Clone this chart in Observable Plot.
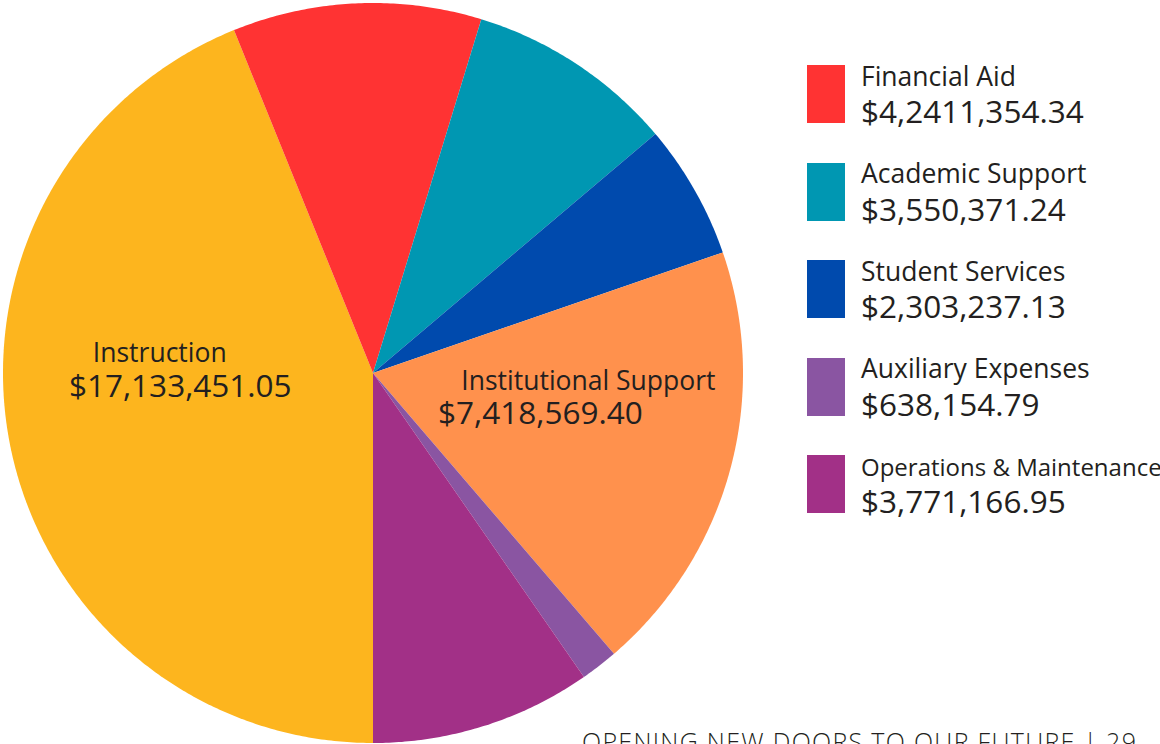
<!DOCTYPE html>
<html>
<head>
<meta charset="utf-8">
<script src="https://cdn.jsdelivr.net/npm/d3@7"></script>
<script src="https://cdn.jsdelivr.net/npm/@observablehq/plot@0.6"></script>
<style>
html, body { margin: 0; padding: 0; background: #fff; overflow: hidden; width: 1160px; height: 744px; }
#wrap { position: relative; width: 1160px; height: 744px; font-family: "Open Sans", sans-serif; color: #231f20; }
#chart { position: absolute; left: 0; top: 0; }
#legend { position: absolute; left: 807px; top: 65px; }
.item { position: relative; height: 97.5px; width: 353px; }
.sw { position: absolute; left: 0; top: 0; width: 38px; height: 58px; }
.nm { position: absolute; left: 54px; top: -2.5px; font-size: 26.5px; line-height: 26.5px; white-space: nowrap; }
.nm.small { top: -0.3px; font-size: 24px; line-height: 24px; }
.vl { position: absolute; left: 54px; top: 30px; font-size: 31.5px; line-height: 31.5px; white-space: nowrap; }
#footer { position: absolute; left: 582px; top: 728.6px; font-size: 25px; line-height: 25px; font-weight: 300; letter-spacing: 1.3px; white-space: nowrap; color: #231f20; }
</style>
</head>
<body>
<div id="wrap">
  <div id="chart"></div>
  <div id="legend"></div>
  <div id="footer">OPENING NEW DOORS TO OUR FUTURE | 29</div>
</div>
<script>
const categories = ["Instruction", "Financial Aid", "Academic Support", "Student Services", "Institutional Support", "Auxiliary Expenses", "Operations & Maintenance"];
const amounts = [17133451.05, 4241354.34, 3550371.24, 2303237.13, 7418569.40, 638154.79, 3771166.95];
const amountLabels = ["$17,133,451.05", "$4,2411,354.34", "$3,550,371.24", "$2,303,237.13", "$7,418,569.40", "$638,154.79", "$3,771,166.95"];
const colors = ["#FDB51E", "#FF3333", "#0097B2", "#004AAD", "#FF914D", "#8A55A2", "#A23087"];
const legendCategories = ["Financial Aid", "Academic Support", "Student Services", "Auxiliary Expenses", "Operations & Maintenance"];
const pieLabelCategories = ["Instruction", "Institutional Support"];

// pie geometry (angles from 12 o'clock, clockwise, starting at 6 o'clock)
const arcs = d3.pie().sort(null).startAngle(Math.PI).endAngle(3 * Math.PI)(amounts);
const pts = [];
arcs.forEach((p, i) => {
  const name = categories[i];
  pts.push({name, x: 0, y: 0});
  const n = Math.max(2, Math.ceil((p.endAngle - p.startAngle) / (Math.PI / 360)));
  for (let k = 0; k <= n; k++) {
    const a = p.startAngle + (p.endAngle - p.startAngle) * k / n;
    pts.push({name, x: Math.sin(a), y: Math.cos(a)});
  }
  pts.push({name, x: 0, y: 0});
});

function labelPoint(cat) {
  const i = categories.indexOf(cat);
  const p = arcs[i];
  const m = (p.startAngle + p.endAngle) / 2;
  return [{name: cat, amount: amountLabels[i], x: 0.55 * Math.sin(m), y: 0.55 * Math.cos(m)}];
}
const instr = labelPoint(pieLabelCategories[0]);
const inst = labelPoint(pieLabelCategories[1]);

const textStyle = {x: "x", y: "y", fill: "#231f20", fontFamily: "Open Sans", lineAnchor: "middle", textAnchor: "middle"};

const chart = Plot.plot({
  width: 1160,
  height: 744,
  margin: 0,
  x: {domain: [-1, 1], range: [2.5, 742.5], axis: null},
  y: {domain: [-1, 1], range: [742.5, 2.5], axis: null},
  color: {domain: categories, range: colors},
  style: {background: "transparent", fontFamily: "Open Sans", color: "#231f20"},
  marks: [
    Plot.line(pts, {x: "x", y: "y", z: "name", fill: "name", stroke: "none", curve: "linear"}),
    Plot.text(instr, {...textStyle, text: "name", fontSize: 26.5, dx: -13.5, dy: -58}),
    Plot.text(instr, {...textStyle, text: "amount", fontSize: 31.5, dx: 7, dy: -25.5}),
    Plot.text(inst, {...textStyle, text: "name", fontSize: 26.5, dx: 19, dy: -44.7}),
    Plot.text(inst, {...textStyle, text: "amount", fontSize: 31.5, dx: -29, dy: -12.3})
  ]
});
document.getElementById("chart").appendChild(chart);

// legend
const legend = document.getElementById("legend");
legendCategories.forEach(cat => {
  const i = categories.indexOf(cat);
  const item = document.createElement("div");
  item.className = "item";
  const sw = document.createElement("div");
  sw.className = "sw";
  sw.style.background = colors[i];
  const nm = document.createElement("div");
  nm.className = cat.length > 20 ? "nm small" : "nm";
  nm.textContent = cat;
  const vl = document.createElement("div");
  vl.className = "vl";
  vl.textContent = amountLabels[i];
  item.append(sw, nm, vl);
  legend.appendChild(item);
});
</script>
</body>
</html>
